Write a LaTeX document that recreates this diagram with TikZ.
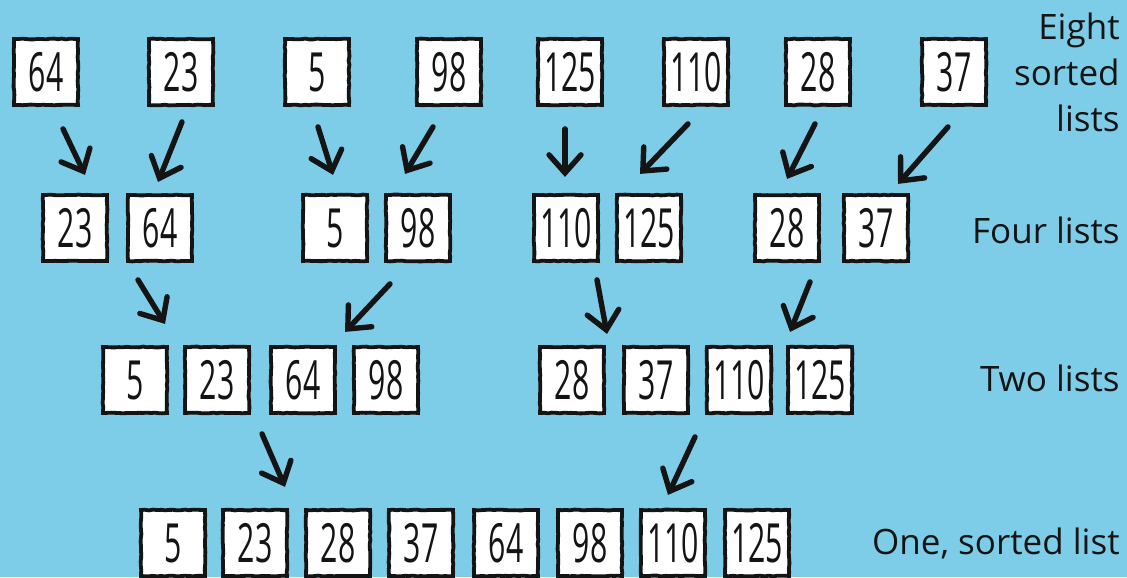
\documentclass[tikz,border=0pt]{standalone}
\usepackage{fontspec}
\setmainfont{Open Sans}
\usepackage{graphicx}
\usetikzlibrary{calc, arrows.meta, decorations.pathmorphing}

\definecolor{skyback}{HTML}{7ECDE8}
\definecolor{inkblack}{HTML}{141414}
\newcommand{\digits}[1]{\scalebox{0.56}[1]{#1}}

\begin{document}
\begin{tikzpicture}[x=0.5pt, y=-0.5pt,
    card/.style={draw=inkblack, fill=white, line width=1.9pt, minimum width=32pt, minimum height=33pt,
                 inner sep=0pt, text=inkblack, font=\fontsize{27}{27}\selectfont,
                 decorate, decoration={random steps, segment length=2pt, amplitude=0.2pt}},
    merge/.style={draw=inkblack, line width=2.7pt, line cap=round,
                  -{Straight Barb[length=9pt, width=16pt, line cap=round]}},
    stage/.style={anchor=east, align=right, inner sep=0pt, text=inkblack, font=\fontsize{17.5}{23}\selectfont}]

    \pgfmathsetseed{7}
    % --- BACKGROUND ---
    \fill[skyback] (0,0) rectangle (1127,577);
    \useasboundingbox (0,0) rectangle (1127,577);

    % --- LISTS ---
    \foreach \v/\x in {64/46, 23/181, 5/317, 98/449, 125/570, 110/696, 28/818, 37/954}
        \node[card] (e\v) at (\x,72) {\digits{\v}};
    \foreach \v/\x in {23/75, 64/160, 5/335, 98/418, 110/566, 125/649, 28/787, 37/876}
        \node[card] (f\v) at (\x,228) {\digits{\v}};
    \foreach \v/\x in {5/135, 23/217, 64/303, 98/386, 28/572, 37/656, 110/739, 125/820}
        \node[card] (t\v) at (\x,380) {\digits{\v}};
    \foreach \v/\x in {5/173, 23/255, 28/338, 37/421, 64/506, 98/590, 110/673, 125/757}
        \node[card] (o\v) at (\x,543) {\digits{\v}};

    % --- MERGES ---
    \foreach \s/\dx/\dy/\vx/\vy in {e64/17/22/22/46, e23/1/15/-24/60, e5/1/20/15/48, e98/-16/20/-28/47,
                                    e125/-5/22/0/48, e110/-8/17/-48/50, e28/-3/17/-28/55, e37/-6/20/-50/57,
                                    f64/-22/17/27/44, f98/-28/21/-45/48, f110/31/17/10/54, f28/23/19/-20/50,
                                    t64/-41/19/23/53, t110/-44/22/-27/58}
        \draw[merge] ($(\s.south)+(\dx,\dy)$) -- ++(\vx,\vy);

    % --- STAGE LABELS ---
    \node[stage] (lab8) at (1120,72) {Eight\\sorted\\lists};
    \node[stage] (lab4) at (1120,230) {Four lists};
    \node[stage] (lab2) at (1120,378) {Two lists};
    \node[stage] (lab1) at (1120,543) {One, sorted list};
\end{tikzpicture}
\end{document}
